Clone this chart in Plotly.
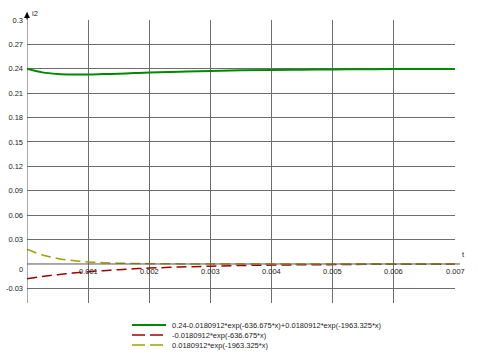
import plotly.graph_objects as go

# Sample times (s)
t = [0, 0.00025, 0.0005, 0.00075, 0.001, 0.00125, 0.0015, 0.00175, 0.002, 0.0025,
     0.003, 0.0035, 0.004, 0.0045, 0.005, 0.0055, 0.006, 0.0065, 0.007]
# Values
i_total = [0.2400, 0.2356, 0.2336, 0.2329, 0.2330, 0.2335, 0.2340, 0.2347, 0.2353, 0.2364,
           0.2374, 0.2381, 0.2386, 0.2389, 0.2392, 0.2394, 0.2396, 0.2397, 0.2398]
i_red = [-0.0181, -0.0154, -0.0132, -0.0112, -0.0096, -0.0082, -0.0070, -0.0059, -0.0051, -0.0037,
         -0.0027, -0.0019, -0.0014, -0.0010, -0.0008, -0.0005, -0.0004, -0.0003, -0.0002]
i_yel = [0.0181, 0.0111, 0.0068, 0.0042, 0.0025, 0.0016, 0.0010, 0.0006, 0.0004, 0.0001,
         0.0001, 0.0, 0.0, 0.0, 0.0, 0.0, 0.0, 0.0, 0.0]

names = ["0.24-0.0180912*exp(-636.675*x)+0.0180912*exp(-1963.325*x)",
         "-0.0180912*exp(-636.675*x)",
         "0.0180912*exp(-1963.325*x)"]
colors = ["#008a00", "#a00000", "#a0a000"]
dashes = ["solid", "10px,5px", "10px,5px"]
widths = [2, 1.5, 1.5]

y_ticks = [-0.03, 0.03, 0.06, 0.09, 0.12, 0.15, 0.18, 0.21, 0.24, 0.27, 0.3]
y_tick_text = ["-0.03", "0.03", "0.06", "0.09", "0.12", "0.15", "0.18", "0.21", "0.24", "0.27", "0.3"]
x_ticks = [0.001, 0.002, 0.003, 0.004, 0.005, 0.006, 0.007]
x_tick_text = ["0.001", "0.002", "0.003", "0.004", "0.005", "0.006", "0.007"]

FONT = "Liberation Sans, Arial, sans-serif"
FS = 7.5
TXT = "#222222"
W, H = 478, 359
L, R, T, B = 27, 23, 20, 56
PW, PH = W - L - R, H - T - B
YMIN, YMAX = -0.048, 0.3

def px_x(p):
    return (p - L) / PW

def px_y(p):
    return (H - B - p) / PH

fig = go.Figure()
for ys, nm, c, d, w in zip([i_total, i_red, i_yel], names, colors, dashes, widths):
    fig.add_trace(go.Scatter(x=t, y=ys, mode="lines", name=nm, showlegend=False,
                             line=dict(color=c, width=w, dash=d, shape="spline")))

fig.update_layout(
    width=W, height=H,
    margin=dict(l=L, r=R, t=T, b=B, pad=0, autoexpand=False),
    paper_bgcolor="white", plot_bgcolor="white",
    font=dict(family=FONT, size=FS, color=TXT),
    showlegend=False,
    xaxis=dict(range=[0, 0.007], tickvals=x_ticks, showticklabels=False,
               showgrid=True, gridcolor="#6e6e6e", gridwidth=1, zeroline=False,
               showline=False, fixedrange=True),
    yaxis=dict(range=[YMIN, YMAX], tickvals=y_ticks, ticktext=y_tick_text,
               showgrid=True, gridcolor="#6e6e6e", gridwidth=1, zeroline=False,
               showline=False, ticks="", ticklen=0, ticklabelstandoff=3,
               tickfont=dict(family=FONT, size=FS, color=TXT), fixedrange=True),
)

# Axes lines with arrows
fig.add_shape(type="line", xref="x", yref="paper", x0=0, x1=0, y0=0, y1=px_y(12),
              line=dict(color="#555555", width=1))
fig.add_shape(type="line", xref="paper", yref="y", x0=0, x1=px_x(460), y0=0, y1=0,
              line=dict(color="#555555", width=1))
fig.add_annotation(x=0, y=YMAX, xref="x", yref="y", ax=0, ay=9,
                   showarrow=True, arrowhead=2, arrowsize=1.2, arrowwidth=1, arrowcolor="black", text="",
                   yshift=8)
fig.add_annotation(x=0.007, y=0, xref="x", yref="y", ax=-1, ay=0, showarrow=True, arrowhead=2,
                   arrowsize=1.2, arrowwidth=1, arrowcolor="black", text="",
                   xshift=8)
fig.add_annotation(x=0, y=YMAX, xref="x", yref="y", text="i2", showarrow=False,
                   xanchor="left", yanchor="bottom", xshift=3, yshift=0,
                   font=dict(family=FONT, size=FS, color=TXT))
fig.add_annotation(x=0.007, y=0, xref="x", yref="y", text="t", showarrow=False,
                   xanchor="left", yanchor="bottom", xshift=5, yshift=3,
                   font=dict(family=FONT, size=FS, color=TXT))
# x tick labels along the zero line
for xv, xt in zip(x_ticks, x_tick_text):
    fig.add_annotation(x=xv, y=0, xref="x", yref="y", text=xt, showarrow=False,
                       xanchor="center", yanchor="top", yshift=-1,
                       font=dict(family=FONT, size=FS, color=TXT))
fig.add_annotation(x=0, y=0, xref="x", yref="y", text="0", showarrow=False,
                   xanchor="right", yanchor="top", xshift=-2, yshift=1,
                   font=dict(family=FONT, size=FS, color=TXT))

# Manual legend
for k, (nm, c, d, w) in enumerate(zip(names, colors, dashes, widths)):
    yy = px_y(325 + 10 * k)
    fig.add_shape(type="line", xref="paper", yref="paper", x0=px_x(132), x1=px_x(166),
                  y0=yy, y1=yy, line=dict(color=c, width=w, dash="solid" if k == 0 else "13px,5px"))
    fig.add_annotation(x=px_x(170), y=yy, xref="paper", yref="paper", text=nm, showarrow=False,
                       xanchor="left", yanchor="middle", font=dict(family=FONT, size=FS, color=TXT))

fig.write_html("out.html")
